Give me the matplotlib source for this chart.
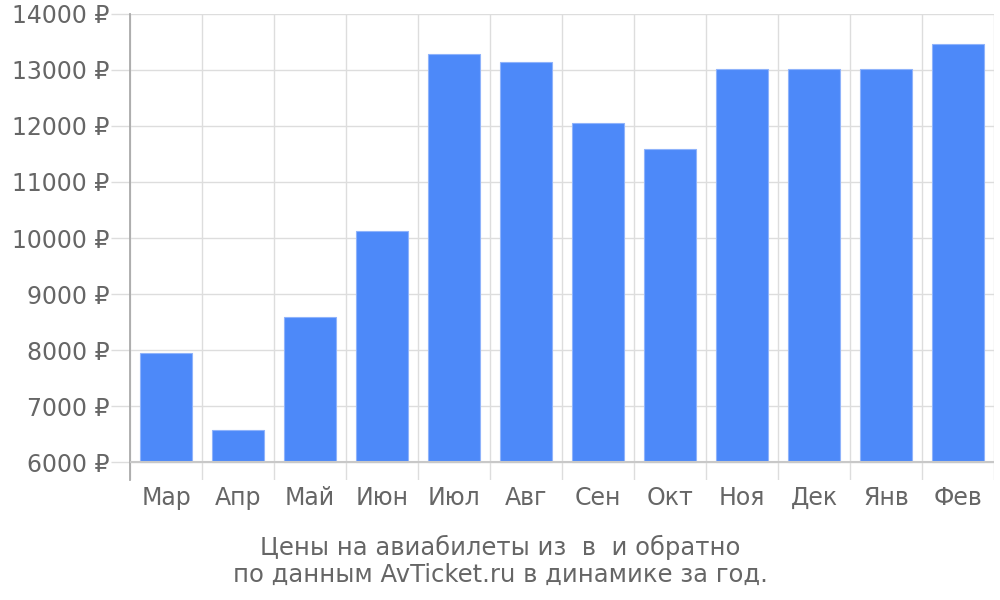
import matplotlib
matplotlib.use("Agg")
import matplotlib.pyplot as plt
import numpy as np

months = ['Мар', 'Апр', 'Май', 'Июн', 'Июл', 'Авг', 'Сен', 'Окт', 'Ноя', 'Дек', 'Янв', 'Фев']
prices = [7950, 6570, 8590, 10120, 13290, 13140, 12060, 11590, 13010, 13010, 13010, 13460]
yticks = [6000, 7000, 8000, 9000, 10000, 11000, 12000, 13000, 14000]
title = "Цены на авиабилеты из  в  и обратно\nпо данным AvTicket.ru в динамике за год."

base = 6000
grey = '#666666'

fig = plt.figure(figsize=(10, 6), dpi=100)
ax = fig.add_axes([0.13, 0.2, 0.864, 0.7767])

x = np.arange(len(months))
heights = [p - base for p in prices]
ax.bar(x, heights, bottom=base, width=0.72, color='#4d89f9', edgecolor='#8fb3fb', linewidth=0.8, zorder=3)

ax.set_xlim(-0.5, len(months) - 0.5)
ax.set_ylim(5679, 14000)

# сетка
for yv in yticks:
    ax.axhline(yv, color='#dddddd', linewidth=1, zorder=1)
ax.axhline(base, color='#c8c8c8', linewidth=1.5, zorder=4)
for b in np.arange(-0.5, len(months), 1.0):
    ax.axvline(b, color='#dddddd', linewidth=1, zorder=1)

ax.set_xticks(x)
ax.set_xticklabels(months)
ax.tick_params(axis='x', length=0, pad=4, labelsize=17, labelcolor=grey)

ax.set_yticks(yticks)
ax.set_yticklabels(["%d ₽" % v for v in yticks])
ax.tick_params(axis='y', length=14, width=1, color='#dddddd', pad=1, labelsize=17, labelcolor=grey)

for s in ['top', 'right', 'bottom']:
    ax.spines[s].set_visible(False)
ax.spines['left'].set_color('#aaaaaa')
ax.spines['left'].set_linewidth(1.3)

fig.text(0.5, 0.065, title, ha='center', va='center', fontsize=17.5, color=grey, linespacing=1.15)

fig.savefig('out.png', dpi=100)
